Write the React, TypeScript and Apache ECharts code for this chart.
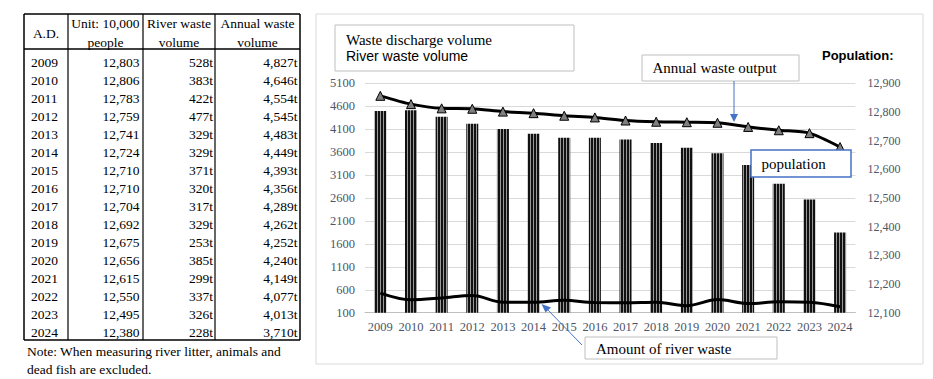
import React, { useEffect, useRef } from "react";
import * as echarts from "echarts";

const years = ["2009","2010","2011","2012","2013","2014","2015","2016","2017","2018","2019","2020","2021","2022","2023","2024"];
const population = [12803,12806,12783,12759,12741,12724,12710,12710,12704,12692,12675,12656,12615,12550,12495,12380];
const riverWaste = [528,383,422,477,329,329,371,320,317,329,253,385,299,337,326,228];
const annualWaste = [4827,4646,4554,4545,4483,4449,4393,4356,4289,4262,4252,4240,4149,4077,4013,3710];

const headerCol1 = ["A.D."];
const headerCol2 = ["Unit: 10,000", "people"];
const headerCol3 = ["River waste", "volume"];
const headerCol4 = ["Annual waste", "volume"];
const noteLines = ["Note: When measuring river litter, animals and", "dead fish are excluded."];

const fmt = (n: number) => n.toLocaleString("en-US");

const SERIF = "'Liberation Serif', 'Times New Roman', serif";
const SANS = "'Liberation Sans', Arial, sans-serif";

function makePattern(): HTMLCanvasElement {
  const c = document.createElement("canvas");
  c.width = 3;
  c.height = 4;
  const ctx = c.getContext("2d")!;
  ctx.fillStyle = "#111111";
  ctx.fillRect(0, 0, 2, 4);
  ctx.fillStyle = "#9a9a9a";
  ctx.fillRect(2, 0, 1, 4);
  return c;
}

function txt(text: string, x: number, y: number, size: number, align: string, extra: any = {}) {
  return {
    type: "text",
    silent: true,
    z: 100,
    style: {
      text,
      x,
      y,
      font: `${extra.weight || "normal"} ${size}px ${extra.family || SERIF}`,
      fill: extra.fill || "#000",
      textAlign: align,
      align,
      textVerticalAlign: "middle",
      verticalAlign: "middle",
    },
  };
}

function line(x1: number, y1: number, x2: number, y2: number, stroke = "#000", lineWidth = 1) {
  return { type: "line", silent: true, z: 100, shape: { x1, y1, x2, y2 }, style: { stroke, lineWidth } };
}

function box(x: number, y: number, w: number, h: number, stroke: string, lineWidth = 1, fill = "#fff") {
  return { type: "rect", silent: true, z: 90, shape: { x, y, width: w, height: h }, style: { stroke, lineWidth, fill } };
}

function buildTable(): any[] {
  const els: any[] = [];
  const L = 24, R = 300, T = 14, HB = 49, B = 340;
  const cols = [68, 143, 215];
  els.push(line(L, T, R, T, "#000", 1.5));
  els.push(line(L, HB, R, HB, "#000", 1.5));
  els.push(line(L, B, R, B, "#000", 1.5));
  els.push(line(L, T, L, B, "#000", 1.5));
  els.push(line(R, T, R, B, "#000", 1.5));
  cols.forEach((cx) => els.push(line(cx, T, cx, B, "#000", 1.2)));
  const fs = 13.5;
  els.push(txt(headerCol1[0], 46, 33, fs, "center"));
  headerCol2.forEach((t, i) => els.push(txt(t, 105.5, 23 + i * 19, fs, "center")));
  headerCol3.forEach((t, i) => els.push(txt(t, 179, 23 + i * 19, fs, "center")));
  headerCol4.forEach((t, i) => els.push(txt(t, 257.5, 23 + i * 19, fs, "center")));
  years.forEach((yr, i) => {
    const y = 62 + i * 18.05;
    els.push(txt(yr, 31, y, fs, "left"));
    els.push(txt(fmt(population[i]), 139.5, y, fs, "right"));
    els.push(txt(`${riverWaste[i]}t`, 213, y, fs, "right"));
    els.push(txt(`${fmt(annualWaste[i])}t`, 297.5, y, fs, "right"));
  });
  noteLines.forEach((t, i) => els.push(txt(t, 27, 351 + i * 18.5, fs, "left")));
  return els;
}

function buildAnnotations(): any[] {
  const els: any[] = [];
  const blue = "#4472C4";
  els.push({ type: "rect", silent: true, z: 0, shape: { x: 316, y: 14, width: 607, height: 350 }, style: { stroke: "#d9d9d9", lineWidth: 1, fill: "none" } });
  els.push(box(335, 25, 239, 46, "#bfbfbf", 1));
  els.push(txt("Waste discharge volume", 346, 40, 15, "left"));
  els.push(txt("River waste volume", 346, 56, 14, "left", { family: SANS }));
  els.push(txt("Population:", 822, 55, 13, "left", { family: SANS, weight: "bold" }));
  els.push(box(642, 55, 157, 26, "#bfbfbf", 1));
  els.push(txt("Annual waste output", 652.5, 68, 15, "left"));
  els.push(line(734, 81, 734, 115, blue, 1));
  els.push({ type: "polygon", silent: true, z: 100, shape: { points: [[730, 114], [738, 114], [734, 122]] }, style: { fill: blue } });
  els.push(box(751, 150, 100, 27, blue, 1.5));
  els.push(txt("population", 761.5, 163.5, 15, "left"));
  els.push(box(585, 337, 192, 22, "#bfbfbf", 1));
  els.push(txt("Amount of river waste", 596, 348.5, 15, "left"));
  els.push(line(582, 345, 546, 308, blue, 1));
  els.push({ type: "polygon", silent: true, z: 100, shape: { points: [[541.5, 304], [551, 307.5], [545.5, 312.5]] }, style: { fill: blue } });
  return els;
}

export default function App() {
  const ref = useRef<HTMLDivElement>(null);
  useEffect(() => {
    if (!ref.current) return;
    const chart = echarts.init(ref.current, null, { renderer: "svg", width: 933, height: 379 });
    const pattern = makePattern();
    const labelColor = "#4d5566";
    chart.setOption({
      animation: false,
      backgroundColor: "#ffffff",
      grid: { left: 365, right: 77.6, top: 83.3, bottom: 66.3, containLabel: false },
      xAxis: {
        type: "category",
        data: years,
        axisTick: { show: false },
        axisLine: { lineStyle: { color: "#bfbfbf", width: 1 } },
        axisLabel: { color: labelColor, fontFamily: SERIF, fontSize: 12.5, margin: 8, interval: 0 },
      },
      yAxis: [
        {
          type: "value",
          min: 100,
          max: 5100,
          interval: 500,
          axisLine: { show: false },
          axisTick: { show: false },
          splitLine: { lineStyle: { color: "#d9d9d9", width: 1 } },
          axisLabel: { color: labelColor, fontFamily: SERIF, fontSize: 12.5, margin: 10, formatter: (v: number) => String(v) },
        },
        {
          type: "value",
          min: 12100,
          max: 12900,
          interval: 100,
          axisLine: { show: false },
          axisTick: { show: false },
          splitLine: { show: false },
          axisLabel: { color: labelColor, fontFamily: SERIF, fontSize: 12, margin: 12, formatter: (v: number) => fmt(v) },
        },
      ],
      series: [
        {
          name: "population",
          type: "bar",
          yAxisIndex: 1,
          data: population,
          barWidth: 12,
          itemStyle: { color: { image: pattern, repeat: "repeat" } as any },
          z: 1,
        },
        {
          name: "Annual waste output",
          type: "line",
          yAxisIndex: 0,
          data: annualWaste,
          smooth: 0.25,
          symbol: "triangle",
          symbolSize: 9,
          lineStyle: { color: "#000", width: 3 },
          itemStyle: { color: "#7f7f7f", borderColor: "#000", borderWidth: 1 },
          z: 3,
        },
        {
          name: "Amount of river waste",
          type: "line",
          yAxisIndex: 0,
          data: riverWaste,
          smooth: 0.35,
          showSymbol: false,
          symbol: "none",
          lineStyle: { color: "#000", width: 3 },
          z: 2,
        },
      ],
      graphic: [...buildTable(), ...buildAnnotations()],
    });
    return () => chart.dispose();
  }, []);
  return (
    <div
      ref={ref}
      style={{ position: "fixed", left: 0, top: 0, width: 933, height: 379, background: "#fff" }}
    />
  );
}
